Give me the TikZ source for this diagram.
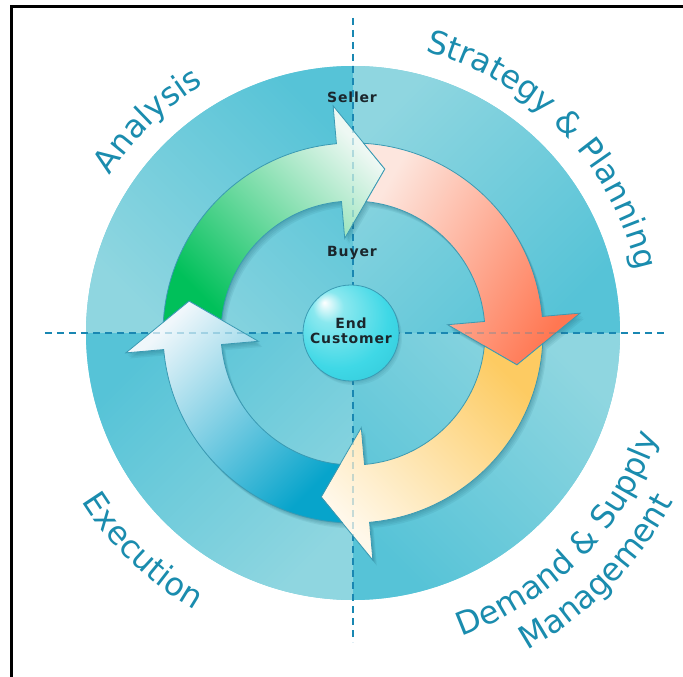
\documentclass[tikz,border=0pt]{standalone}
\usepackage{fontspec}
\setmainfont{DejaVu Sans}
\newfontfamily\labfont{DejaVu Sans}
\newfontfamily\spacedfont[LetterSpace=6]{DejaVu Sans}
\usetikzlibrary{decorations.text}
\definecolor{bglight}{HTML}{8FD6E0}
\definecolor{bgdark}{HTML}{56C3D7}
\definecolor{bgmid}{HTML}{70CCDB}
\definecolor{dashc}{HTML}{1987B2}
\definecolor{labc}{HTML}{1A8CAE}
\definecolor{edgec}{HTML}{3A9AB3}
\definecolor{shadowc}{HTML}{1B5F70}
\definecolor{greenA}{HTML}{00C05A}
\definecolor{greenB}{HTML}{EEF8F3}
\definecolor{redA}{HTML}{FDE6DE}
\definecolor{redB}{HTML}{FF7752}
\definecolor{yelA}{HTML}{FFF8EA}
\definecolor{yelB}{HTML}{FDCB62}
\definecolor{bluA}{HTML}{F0F7FB}
\definecolor{bluB}{HTML}{07A4CB}
\definecolor{txtc}{HTML}{1B262C}
\definecolor{ballA}{HTML}{8AE8EF}
\definecolor{ballB}{HTML}{3FD8E6}
\definecolor{ballC}{HTML}{2CC2D4}
\pgfdeclareradialshading{endball}{\pgfpoint{-14bp}{16bp}}{color(0bp)=(white); color(8bp)=(ballA); color(26bp)=(ballB); color(44bp)=(ballC); color(50bp)=(ballC)}
\newcommand\ringarrow[1]{({#1+81.76}:190pt) arc[start angle={#1+81.76}, end angle={#1}, radius=190pt] -- ({#1}:228pt) -- ({#1-16}:167pt) -- ({#1}:95pt) -- ({#1}:132pt) arc[start angle={#1}, end angle={#1+79.35}, radius=132pt] -- ({#1+74}:167pt) -- cycle}
\newcommand\labstyle{\fontsize{32}{38}\selectfont\labfont\color{labc}}
\begin{document}
\begin{tikzpicture}[x=1pt,y=1pt,
  dashline/.style={draw=dashc, line width=2.6pt, dash pattern=on 7pt off 5pt},
  fadedash/.style={draw=dashc, opacity=0.25, line width=2.6pt, dash pattern=on 7pt off 5pt},
  arrowbody/.style={draw=edgec, line width=0.8pt},
  arrowshadow/.style={fill=shadowc, fill opacity=0.09},
  boldlabel/.style={font=\fontsize{14}{15.5}\selectfont\spacedfont\bfseries, text=txtc, inner sep=0pt, anchor=base}]
\useasboundingbox (-353,-344) rectangle (330,333);
\fill[white] (-353,-344) rectangle (330,333);
% frame
\draw[black, line width=3pt] (-341.5,-344) -- (-341.5,326) -- (330,326);
% background disc
\fill[bgmid] (0,0) circle (267pt);
\shade[left color=bglight, right color=bgdark, shading angle=45] (0,0) -- (90:267pt) arc[start angle=90, end angle=0, radius=267pt] -- cycle;
\shade[left color=bglight, right color=bgdark, shading angle=-45] (0,0) -- (0:267pt) arc[start angle=0, end angle=-90, radius=267pt] -- cycle;
\shade[left color=bglight, right color=bgdark, shading angle=-135] (0,0) -- (270:267pt) arc[start angle=270, end angle=180, radius=267pt] -- cycle;
\shade[left color=bglight, right color=bgdark, shading angle=135] (0,0) -- (180:267pt) arc[start angle=180, end angle=90, radius=267pt] -- cycle;
% dashed axes
\coordinate (vt) at (0,315);
\coordinate (vb) at (0,-309);
\coordinate (hl) at (-308,0);
\coordinate (hr) at (315,0);
\draw[dashline] (vt) -- (vb);
\draw[dashline] (hl) -- (hr);
% soft arrow shadows
\foreach \s in {1,2,3,4}{
  \begin{scope}[xshift=\s*1pt, yshift=-\s*1.4pt]
    \fill[arrowshadow] \ringarrow{95} \ringarrow{5} \ringarrow{-85} \ringarrow{185};
  \end{scope}
}
% arrows
\shade[arrowbody, left color=greenB, right color=greenA, shading angle=-45] \ringarrow{95};
\shade[arrowbody, left color=redA, right color=redB, shading angle=60] \ringarrow{5};
\shade[arrowbody, left color=yelA, right color=yelB, shading angle=135] \ringarrow{-85};
\shade[arrowbody, left color=bluA, right color=bluB, shading angle=45] \ringarrow{185};
% faint dashes seen through the arrows
\begin{scope}
  \clip \ringarrow{95} \ringarrow{5} \ringarrow{-85} \ringarrow{185};
  \draw[fadedash] (vt) -- (vb);
  \draw[fadedash] (hl) -- (hr);
\end{scope}
% centre ball
\foreach \s in {1,2,3}{\fill[shadowc, opacity=0.08] (-2+\s,-1.4*\s) circle (48pt);}
\node[circle, minimum size=96pt, inner sep=0pt, shading=endball, draw=edgec, line width=0.8pt] (ball) at (-2,0) {};
\node[boldlabel] (endtxt) at (-2,4.7) {End};
\node[boldlabel] (custtxt) at (-2,-10.3) {Customer};
\node[boldlabel] (seller) at (-1,230.3) {Seller};
\node[boldlabel] (buyer) at (-1,76.3) {Buyer};
% curved labels
\path[decorate, decoration={text along path, text align=center, text={|\labstyle|Analysis}}]
  (164:290pt) arc[start angle=164, end angle=104, radius=290pt];
\path[decorate, decoration={text along path, text align=center, text={|\labstyle|Strategy {\&} Planning}}]
  (86:290pt) arc[start angle=86, end angle=2, radius=290pt];
\path[decorate, decoration={text along path, text align=center, text={|\labstyle|Execution}}]
  (196:319pt) arc[start angle=196, end angle=256, radius=319pt];
\path[decorate, decoration={text along path, text align=center, text={|\labstyle|Demand {\&} Supply}}]
  (278:322pt) arc[start angle=278, end angle=353, radius=322pt];
\path[decorate, decoration={text along path, text align=center, text={|\labstyle|Management}}]
  (282:362pt) arc[start angle=282, end angle=349, radius=362pt];
\end{tikzpicture}
\end{document}
